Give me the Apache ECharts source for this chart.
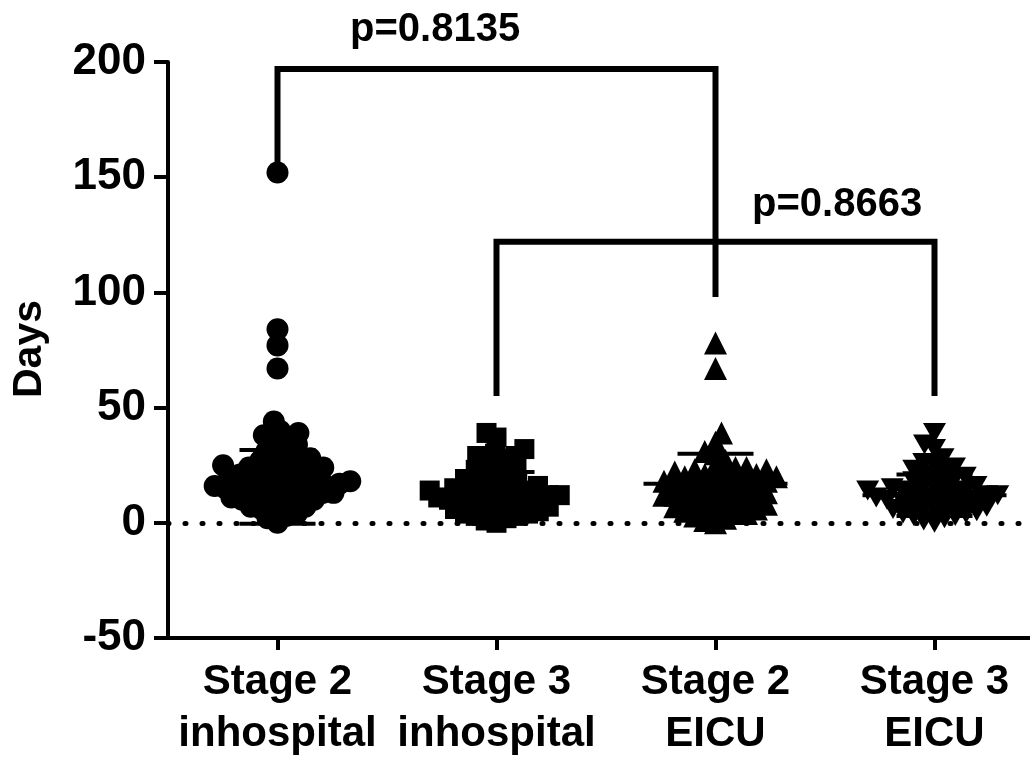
<!DOCTYPE html>
<html>
<head>
<meta charset="utf-8">
<script src="https://cdn.jsdelivr.net/npm/echarts@6/dist/echarts.min.js"></script>
<style>
html,body{margin:0;padding:0;background:#fff;}
#chart{width:1030px;height:762px;}
</style>
</head>
<body>
<div id="chart"></div>
<script>
// ---------- data ----------
const categories = ['Stage 2\ninhospital', 'Stage 3\ninhospital', 'Stage 2\nEICU', 'Stage 3\nEICU'];
const yTicks = { min: -50, max: 200, interval: 50 };

const stage2Inhospital = [0,2,3,4,5,6,7,7,8,9,9,10,10,11,11,12,12,13,13,13,14,14,15,15,15,16,16,17,17,17,18,18,19,19,20,20,21,21,22,22,23,23,24,24,25,25,26,27,27,28,29,30,31,33,34,36,37,38,39,40,44,67,77,84,152];
const stage3Inhospital = [0,1,2,3,3,4,4,5,5,6,6,7,7,8,8,9,9,10,10,10,11,11,12,12,12,13,13,14,14,14,15,15,16,16,17,18,18,19,20,21,22,23,24,25,26,28,29,29,30,32,37,39];
const stage2EICU = [0,1,2,3,4,4,5,5,6,6,7,7,8,8,9,9,10,10,11,11,12,12,12,13,13,14,14,15,15,16,16,17,17,18,18,18,19,19,20,20,20,21,21,22,22,23,23,24,24,25,27,30,31,35,39,67,78];
const stage3EICU = [0,1,2,3,3,4,4,5,5,6,6,7,7,8,8,9,9,10,10,10,11,11,12,12,12,13,13,14,14,14,15,15,16,16,17,18,19,20,20,21,22,23,24,25,26,28,32,34,39];

// mean and SD per group
const groupMeans = [15.6, 13, 17, 12];
const groupSDs = [16, 9, 13, 9];

// significance brackets: [group index, y value] path points
const bracket1 = [[0,155],[0,197],[2,197],[2,98]];
const bracket2 = [[1,55],[1,122],[3,122],[3,55]];
const pLabels = ['p=0.8135', 'p=0.8663'];

// ---------- layout ----------
const W = 1030, H = 762;
const G = { left: 168, right: 0, top: 62, bottom: 124 };
const bandPx = 219;                         // width of one group slot
const xMax = (W - G.left - G.right) / bandPx; // axis runs off the right edge
const pxPerUnit = (H - G.top - G.bottom) / (yTicks.max - yTicks.min);
const FONT = '"Liberation Sans", Arial, sans-serif';
const pos = i => i + 0.5;
const tickPos = categories.map((c, i) => pos(i));

function swarm(vals, d) {
  const sorted = vals.map((v, i) => ({ v, i })).sort((p, q) => p.v - q.v);
  const placed = [];
  const offs = new Array(vals.length);
  let flip = 1;
  for (const p of sorted) {
    const y = p.v * pxPerUnit;
    const near = placed.filter(q => Math.abs(q.y - y) < d);
    const cands = [0];
    near.forEach(q => {
      const dx = Math.sqrt(d * d - (q.y - y) * (q.y - y));
      cands.push(q.x + dx, q.x - dx);
    });
    cands.sort((u, w) => (Math.abs(u) - Math.abs(w)) || (flip * (w - u)));
    let x = cands.find(c => near.every(q => (q.x - c) * (q.x - c) + (q.y - y) * (q.y - y) >= d * d - 1e-6));
    if (x === undefined) x = 0;
    flip = -flip;
    placed.push({ x, y });
    offs[p.i] = x;
  }
  return offs;
}

function swarmData(vals, catIdx, d) {
  const offs = swarm(vals, d);
  return vals.map((v, i) => ({ value: [pos(catIdx), v], symbolOffset: [offs[i], 0] }));
}

const groups = [
  { vals: stage2Inhospital, symbol: 'circle', size: 22, d: 11 },
  { vals: stage3Inhospital, symbol: 'rect', size: 20, d: 11 },
  { vals: stage2EICU, symbol: 'triangle', size: 23, d: 11 },
  { vals: stage3EICU, symbol: 'path://M0,0 L2,0 L1,1.732 Z', size: [23, 20], d: 11 }
];

const series = [];

// zero dotted line
series.push({
  type: 'line', data: [], z: 1, silent: true,
  markLine: {
    silent: true, symbol: 'none', label: { show: false },
    lineStyle: { color: '#000', width: 5, type: [1, 16], cap: 'round', opacity: 1 },
    data: [{ yAxis: 0 }]
  }
});

groups.forEach((g, k) => {
  series.push({
    type: 'scatter', z: 3,
    symbol: g.symbol, symbolSize: g.size,
    itemStyle: { color: '#000', opacity: 1 },
    data: swarmData(g.vals, k, g.d),
    silent: true
  });
});

// mean + SD
series.push({
  type: 'custom', z: 5, silent: true,
  data: groupMeans.map((m, i) => [pos(i), m, groupSDs[i]]),
  renderItem: function (params, api) {
    const c = api.value(0), m = api.value(1), sd = api.value(2);
    const pm = api.coord([c, m]);
    const pt = api.coord([c, m + sd]);
    const pb = api.coord([c, m - sd]);
    const st = { stroke: '#000', lineWidth: 4 };
    return {
      type: 'group', children: [
        { type: 'line', shape: { x1: pm[0] - 72, y1: pm[1], x2: pm[0] + 72, y2: pm[1] }, style: st },
        { type: 'line', shape: { x1: pt[0], y1: pt[1], x2: pb[0], y2: pb[1] }, style: { stroke: '#000', lineWidth: 3 } },
        { type: 'line', shape: { x1: pt[0] - 38, y1: pt[1], x2: pt[0] + 38, y2: pt[1] }, style: st },
        { type: 'line', shape: { x1: pb[0] - 38, y1: pb[1], x2: pb[0] + 38, y2: pb[1] }, style: st }
      ]
    };
  }
});

[bracket1, bracket2].forEach(b => {
  series.push({
    type: 'line', z: 6, silent: true, symbol: 'none',
    data: b.map(p => [pos(p[0]), p[1]]),
    lineStyle: { color: '#000', width: 6, join: 'miter', cap: 'butt', opacity: 1 }
  });
});

const option = {
  backgroundColor: '#fff',
  animation: false,
  grid: { left: G.left, right: G.right, top: G.top, bottom: G.bottom, containLabel: false },
  xAxis: {
    type: 'value', min: 0, max: xMax,
    axisLine: { onZero: false, lineStyle: { color: '#000', width: 4 } },
    axisTick: { customValues: tickPos, length: 12, lineStyle: { color: '#000', width: 4 } },
    axisLabel: {
      customValues: tickPos,
      formatter: v => categories[Math.round(v - 0.5)],
      color: '#000', fontFamily: FONT, fontWeight: 'bold', fontSize: 42, lineHeight: 52, margin: 18
    },
    splitLine: { show: false }
  },
  yAxis: {
    type: 'value', min: yTicks.min, max: yTicks.max, interval: yTicks.interval,
    axisLine: { show: true, onZero: false, lineStyle: { color: '#000', width: 4 } },
    axisTick: { show: true, length: 14, lineStyle: { color: '#000', width: 4 } },
    axisLabel: { color: '#000', fontFamily: FONT, fontWeight: 'bold', fontSize: 44, margin: 22 },
    splitLine: { show: false }
  },
  graphic: [
    { type: 'text', x: 30, y: 349, rotation: Math.PI / 2,
      style: { text: 'Days', font: 'bold 41px ' + FONT, fill: '#000', textAlign: 'center', textVerticalAlign: 'middle' } },
    { type: 'text', x: 350, y: 30,
      style: { text: pLabels[0], font: 'bold 40px ' + FONT, fill: '#000', textAlign: 'left', textVerticalAlign: 'middle' } },
    { type: 'text', x: 752, y: 205,
      style: { text: pLabels[1], font: 'bold 40px ' + FONT, fill: '#000', textAlign: 'left', textVerticalAlign: 'middle' } }
  ],
  series: series
};

const chart = echarts.init(document.getElementById('chart'), null, { renderer: 'canvas' });
chart.setOption(option);
</script>
</body>
</html>
